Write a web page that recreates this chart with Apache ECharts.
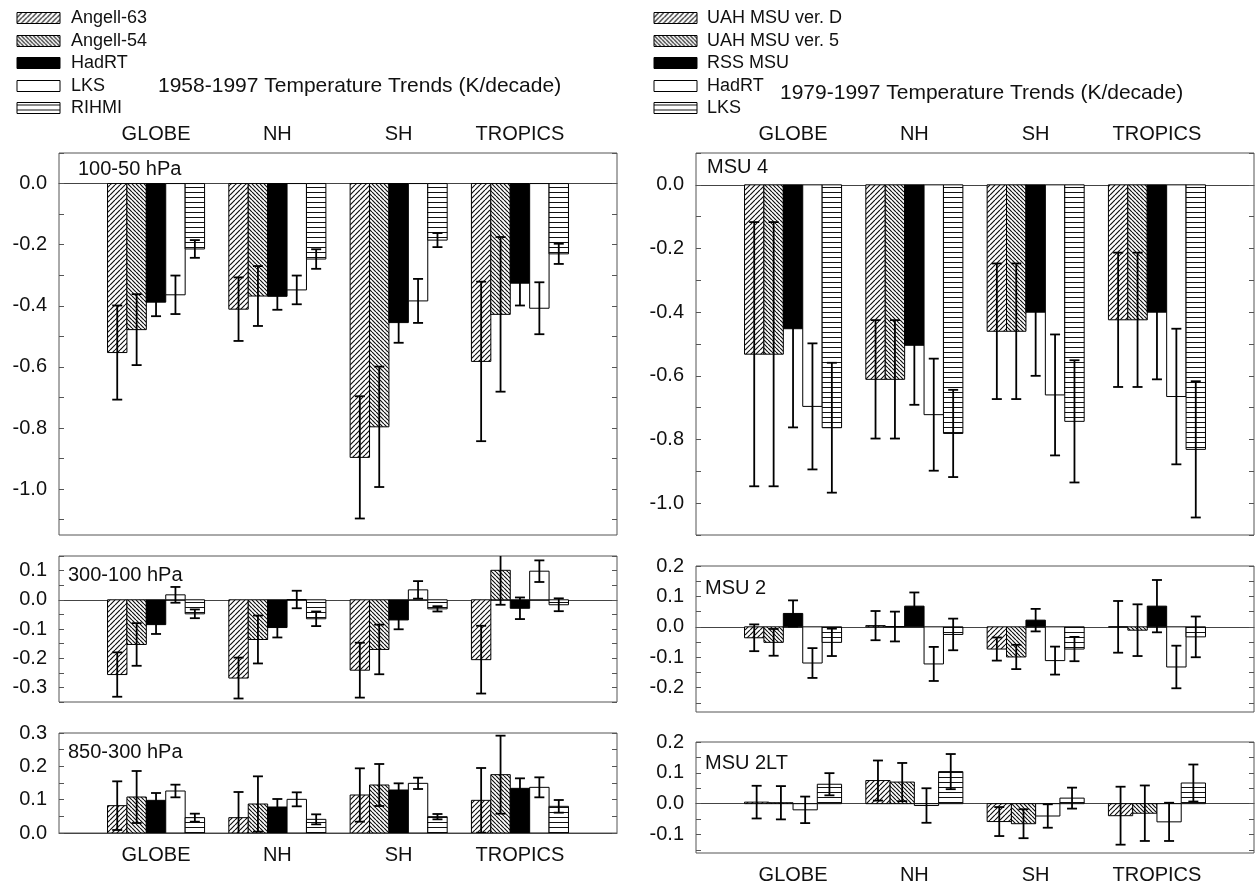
<!DOCTYPE html>
<html>
<head>
<meta charset="utf-8">
<script src="https://cdn.jsdelivr.net/npm/echarts@6/dist/echarts.min.js"></script>
<style>
html,body{margin:0;padding:0;background:#fff;}
#chart{width:1258px;height:890px;}
</style>
</head>
<body>
<div id="chart"></div>
<script>
// ---------------- DATA ----------------
const REGIONS = ['GLOBE', 'NH', 'SH', 'TROPICS'];
const LEFT_NAMES = ['Angell-63', 'Angell-54', 'HadRT', 'LKS', 'RIHMI'];
const RIGHT_NAMES = ['UAH MSU ver. D', 'UAH MSU ver. 5', 'RSS MSU', 'HadRT', 'LKS'];
const MSU2LT_NAMES = ['UAH MSU ver. D', 'UAH MSU ver. 5', 'HadRT', 'LKS'];
const LEFT_TITLE = '1958-1997 Temperature Trends (K/decade)';
const RIGHT_TITLE = '1979-1997 Temperature Trends (K/decade)';

// rows = datasets (in legend order), columns = regions
const HPA100_50_VAL = [
  [-0.553, -0.411, -0.896, -0.582],
  [-0.478, -0.368, -0.796, -0.428],
  [-0.388, -0.369, -0.455, -0.326],
  [-0.364, -0.348, -0.384, -0.408],
  [-0.214, -0.247, -0.185, -0.230]
];
const HPA100_50_ERR = [
  [0.154, 0.104, 0.200, 0.261],
  [0.116, 0.098, 0.197, 0.253],
  [0.046, 0.044, 0.066, 0.073],
  [0.063, 0.047, 0.072, 0.085],
  [0.029, 0.032, 0.023, 0.033]
];
const HPA300_100_VAL = [
  [-0.256, -0.268, -0.241, -0.205],
  [-0.153, -0.136, -0.170, 0.101],
  [-0.085, -0.095, -0.069, -0.029],
  [0.017, 0.001, 0.034, 0.098],
  [-0.048, -0.065, -0.031, -0.017]
];
const HPA300_100_ERR = [
  [0.076, 0.070, 0.094, 0.116],
  [0.073, 0.082, 0.085, 0.118],
  [0.032, 0.034, 0.032, 0.037],
  [0.027, 0.030, 0.030, 0.037],
  [0.015, 0.025, 0.009, 0.022]
];
const HPA850_300_VAL = [
  [0.082, 0.046, 0.114, 0.098],
  [0.108, 0.087, 0.144, 0.175],
  [0.098, 0.078, 0.129, 0.134],
  [0.126, 0.101, 0.149, 0.137],
  [0.046, 0.041, 0.049, 0.080]
];
const HPA850_300_ERR = [
  [0.073, 0.077, 0.080, 0.097],
  [0.078, 0.083, 0.063, 0.117],
  [0.022, 0.024, 0.020, 0.030],
  [0.019, 0.021, 0.017, 0.030],
  [0.012, 0.015, 0.008, 0.019]
];
const MSU4_VAL = [
  [-0.532, -0.611, -0.460, -0.424],
  [-0.532, -0.611, -0.460, -0.424],
  [-0.452, -0.504, -0.400, -0.400],
  [-0.696, -0.722, -0.660, -0.665],
  [-0.763, -0.781, -0.743, -0.831]
];
const MSU4_ERR = [
  [0.415, 0.186, 0.213, 0.211],
  [0.415, 0.186, 0.213, 0.211],
  [0.310, 0.187, 0.200, 0.211],
  [0.198, 0.176, 0.190, 0.213],
  [0.204, 0.137, 0.192, 0.214]
];
const MSU2_VAL = [
  [-0.036, 0.004, -0.073, 0.000],
  [-0.051, 0.001, -0.099, -0.011],
  [0.044, 0.068, 0.022, 0.068],
  [-0.119, -0.122, -0.111, -0.132],
  [-0.051, -0.025, -0.073, -0.033]
];
const MSU2_ERR = [
  [0.044, 0.048, 0.038, 0.085],
  [0.044, 0.049, 0.040, 0.085],
  [0.043, 0.045, 0.037, 0.086],
  [0.049, 0.056, 0.046, 0.070],
  [0.045, 0.052, 0.040, 0.067]
];
const MSU2LT_VAL = [
  [0.005, 0.075, -0.058, -0.039],
  [0.003, 0.070, -0.065, -0.031],
  [-0.020, -0.006, -0.040, -0.059],
  [0.063, 0.104, 0.018, 0.067]
];
const MSU2LT_ERR = [
  [0.053, 0.065, 0.047, 0.094],
  [0.054, 0.062, 0.047, 0.090],
  [0.043, 0.056, 0.038, 0.062],
  [0.036, 0.057, 0.034, 0.060]
];

// tick labels
const YLAB_100_50 = [-1.0, -0.8, -0.6, -0.4, -0.2, 0.0];
const YLAB_300_100 = [-0.3, -0.2, -0.1, 0.0, 0.1];
const YLAB_850_300 = [0.0, 0.1, 0.2, 0.3];
const YLAB_MSU4 = [-1.0, -0.8, -0.6, -0.4, -0.2, 0.0];
const YLAB_MSU2 = [-0.2, -0.1, 0.0, 0.1, 0.2];
const YLAB_MSU2LT = [-0.1, 0.0, 0.1, 0.2];

// ---------------- PATTERNS ----------------
function makeTile(kind) {
  const c = document.createElement('canvas');
  const s = kind === 'down' ? 4 : 5;
  c.width = s; c.height = s;
  const ctx = c.getContext('2d');
  ctx.fillStyle = '#fff';
  ctx.fillRect(0, 0, s, s);
  ctx.strokeStyle = '#111';
  ctx.lineWidth = 1.2;
  ctx.beginPath();
  if (kind === 'up') {
    for (let q = -s; q <= s; q += s) { ctx.moveTo(q, s); ctx.lineTo(q + s, 0); }
  } else if (kind === 'down') {
    for (let q = -s; q <= s; q += s) { ctx.moveTo(q, 0); ctx.lineTo(q + s, s); }
  } else {
    ctx.lineWidth = 1;
    ctx.moveTo(0, 2.5); ctx.lineTo(s, 2.5);
  }
  ctx.stroke();
  return c;
}
const FILL_UP = { image: makeTile('up'), repeat: 'repeat' };
const FILL_DOWN = { image: makeTile('down'), repeat: 'repeat' };
const FILL_HORIZ = { image: makeTile('horiz'), repeat: 'repeat' };
const FILL_BLACK = '#000';
const FILL_WHITE = '#fff';
const FILLS5 = [FILL_UP, FILL_DOWN, FILL_BLACK, FILL_WHITE, FILL_HORIZ];
const FILLS4 = [FILL_UP, FILL_DOWN, FILL_WHITE, FILL_HORIZ];

// ---------------- LAYOUT ----------------
const FONT = '"Liberation Sans", Arial, Helvetica, sans-serif';
const TXT = '#111';
const FRAME = '#555';

const panels = [
  { grid: { left: 59, top: 153, width: 558, height: 382 }, min: -1.15, max: 0.1, labels: YLAB_100_50, step: 0.1,
    vals: HPA100_50_VAL, errs: HPA100_50_ERR, names: LEFT_NAMES, fills: FILLS5, cat: 'top', catMargin: 9,
    label: '100-50 hPa', lx: 78, ly: 169 },
  { grid: { left: 59, top: 556, width: 558, height: 146 }, min: -0.35, max: 0.15, labels: YLAB_300_100, step: 0.05,
    vals: HPA300_100_VAL, errs: HPA300_100_ERR, names: LEFT_NAMES, fills: FILLS5, cat: null,
    label: '300-100 hPa', lx: 68, ly: 575 },
  { grid: { left: 59, top: 733, width: 558, height: 100 }, min: 0, max: 0.3, labels: YLAB_850_300, step: 0.05,
    vals: HPA850_300_VAL, errs: HPA850_300_ERR, names: LEFT_NAMES, fills: FILLS5, cat: 'bottom', catMargin: 12,
    label: '850-300 hPa', lx: 68, ly: 752 },
  { grid: { left: 696, top: 153, width: 558, height: 382 }, min: -1.1, max: 0.1, labels: YLAB_MSU4, step: 0.1,
    vals: MSU4_VAL, errs: MSU4_ERR, names: RIGHT_NAMES, fills: FILLS5, cat: 'top', catMargin: 9,
    label: 'MSU 4', lx: 707, ly: 167 },
  { grid: { left: 696, top: 566, width: 558, height: 146 }, min: -0.28, max: 0.2, labels: YLAB_MSU2, step: 0.05,
    vals: MSU2_VAL, errs: MSU2_ERR, names: RIGHT_NAMES, fills: FILLS5, cat: null,
    label: 'MSU 2', lx: 705, ly: 588 },
  { grid: { left: 696, top: 742, width: 558, height: 111 }, min: -0.16, max: 0.2, labels: YLAB_MSU2LT, step: 0.05,
    vals: MSU2LT_VAL, errs: MSU2LT_ERR, names: MSU2LT_NAMES, fills: FILLS4, cat: 'bottom', catMargin: 12,
    label: 'MSU 2LT', lx: 705, ly: 763 }
];

function tickValues(min, max, step) {
  const out = [];
  const start = Math.ceil(min / step - 1e-9);
  const end = Math.floor(max / step + 1e-9);
  for (let i = start; i <= end; i++) out.push(Math.round(i * step * 1000) / 1000);
  return out;
}

function makeRender(k, n, fill) {
  const w = 0.8 / n;
  return function (params, api) {
    const g = api.value(0), v = api.value(1), e = api.value(2);
    const x0 = g - 0.4 + k * w, x1 = x0 + w, xc = x0 + w / 2;
    const p0 = api.coord([x0, 0]);
    const p1 = api.coord([x1, v]);
    const hi = api.coord([xc, v + e]);
    const lo = api.coord([xc, v - e]);
    const cap = 5;
    const es = { stroke: '#000', lineWidth: 1.8 };
    return {
      type: 'group',
      children: [
        { type: 'rect', shape: { x: p0[0], y: Math.min(p0[1], p1[1]), width: p1[0] - p0[0], height: Math.abs(p1[1] - p0[1]) },
          style: { fill: fill, stroke: '#000', lineWidth: 1 } },
        { type: 'line', shape: { x1: hi[0], y1: hi[1], x2: lo[0], y2: lo[1] }, style: es },
        { type: 'line', shape: { x1: hi[0] - cap, y1: hi[1], x2: hi[0] + cap, y2: hi[1] }, style: es },
        { type: 'line', shape: { x1: lo[0] - cap, y1: lo[1], x2: lo[0] + cap, y2: lo[1] }, style: es }
      ]
    };
  };
}

const grids = [], xAxes = [], yAxes = [], series = [], graphics = [];

panels.forEach((p, i) => {
  grids.push(Object.assign({ show: true, borderColor: FRAME, borderWidth: 1, backgroundColor: 'transparent' }, p.grid));
  const xi = xAxes.length;
  // zero line axis
  xAxes.push({
    type: 'value', gridIndex: i, min: 0.2, max: 4.8,
    axisLine: { show: true, onZero: true, lineStyle: { color: '#444', width: 1 } },
    axisTick: { show: false }, axisLabel: { show: false }, splitLine: { show: false }
  });
  if (p.cat) {
    xAxes.push({
      type: 'value', gridIndex: i, min: 0.2, max: 4.8, position: p.cat,
      axisLine: { show: false, onZero: false }, axisTick: { show: false }, splitLine: { show: false },
      axisLabel: {
        show: true, customValues: [1, 2, 3, 4], margin: p.catMargin,
        formatter: v => REGIONS[Math.round(v) - 1],
        fontFamily: FONT, fontSize: 20, color: TXT
      }
    });
  }
  const ticks = tickValues(p.min, p.max, p.step);
  const yi = yAxes.length;
  const tickCfg = { show: true, inside: true, length: 5, customValues: ticks, lineStyle: { color: FRAME, width: 1 } };
  yAxes.push({
    type: 'value', gridIndex: i, min: p.min, max: p.max, position: 'left',
    axisLine: { show: false }, splitLine: { show: false }, axisTick: tickCfg,
    axisLabel: { show: true, customValues: p.labels, formatter: v => v.toFixed(1), margin: 12,
      fontFamily: FONT, fontSize: 20, color: TXT, showMinLabel: true, showMaxLabel: true }
  });
  yAxes.push({
    type: 'value', gridIndex: i, min: p.min, max: p.max, position: 'right',
    axisLine: { show: false }, splitLine: { show: false }, axisTick: tickCfg,
    axisLabel: { show: false }
  });
  const n = p.vals.length;
  p.vals.forEach((row, k) => {
    series.push({
      type: 'custom', name: p.names[k], xAxisIndex: xi, yAxisIndex: yi,
      clip: true, silent: true, animation: false,
      encode: { x: 0, y: 1 },
      data: REGIONS.map((r, g) => [g + 1, row[g], p.errs[k][g]]),
      renderItem: makeRender(k, n, p.fills[k])
    });
  });
  graphics.push({
    type: 'text', x: p.lx, y: p.ly, silent: true,
    style: { text: p.label, font: '20px ' + FONT, fill: TXT, verticalAlign: 'middle' }
  });
});

// legends
function legend(names, fills, swX, txX) {
  const ys = [18, 41, 63, 86, 108];
  names.forEach((nm, k) => {
    graphics.push({ type: 'rect', x: swX, y: ys[k] - 5.5, silent: true,
      shape: { width: 43, height: 11 }, style: { fill: fills[k], stroke: '#000', lineWidth: 1 } });
    graphics.push({ type: 'text', x: txX, y: ys[k], silent: true,
      style: { text: nm, font: '18px ' + FONT, fill: TXT, verticalAlign: 'middle' } });
  });
}
legend(LEFT_NAMES, FILLS5, 17, 71);
legend(RIGHT_NAMES, FILLS5, 654, 707);
graphics.push({ type: 'text', x: 158, y: 86, silent: true,
  style: { text: LEFT_TITLE, font: '21px ' + FONT, fill: TXT, verticalAlign: 'middle' } });
graphics.push({ type: 'text', x: 780, y: 93, silent: true,
  style: { text: RIGHT_TITLE, font: '21px ' + FONT, fill: TXT, verticalAlign: 'middle' } });

const chart = echarts.init(document.getElementById('chart'), null, { renderer: 'canvas' });
chart.setOption({
  animation: false,
  backgroundColor: '#fff',
  textStyle: { fontFamily: FONT },
  grid: grids,
  xAxis: xAxes,
  yAxis: yAxes,
  series: series,
  graphic: graphics
});
</script>
</body>
</html>
